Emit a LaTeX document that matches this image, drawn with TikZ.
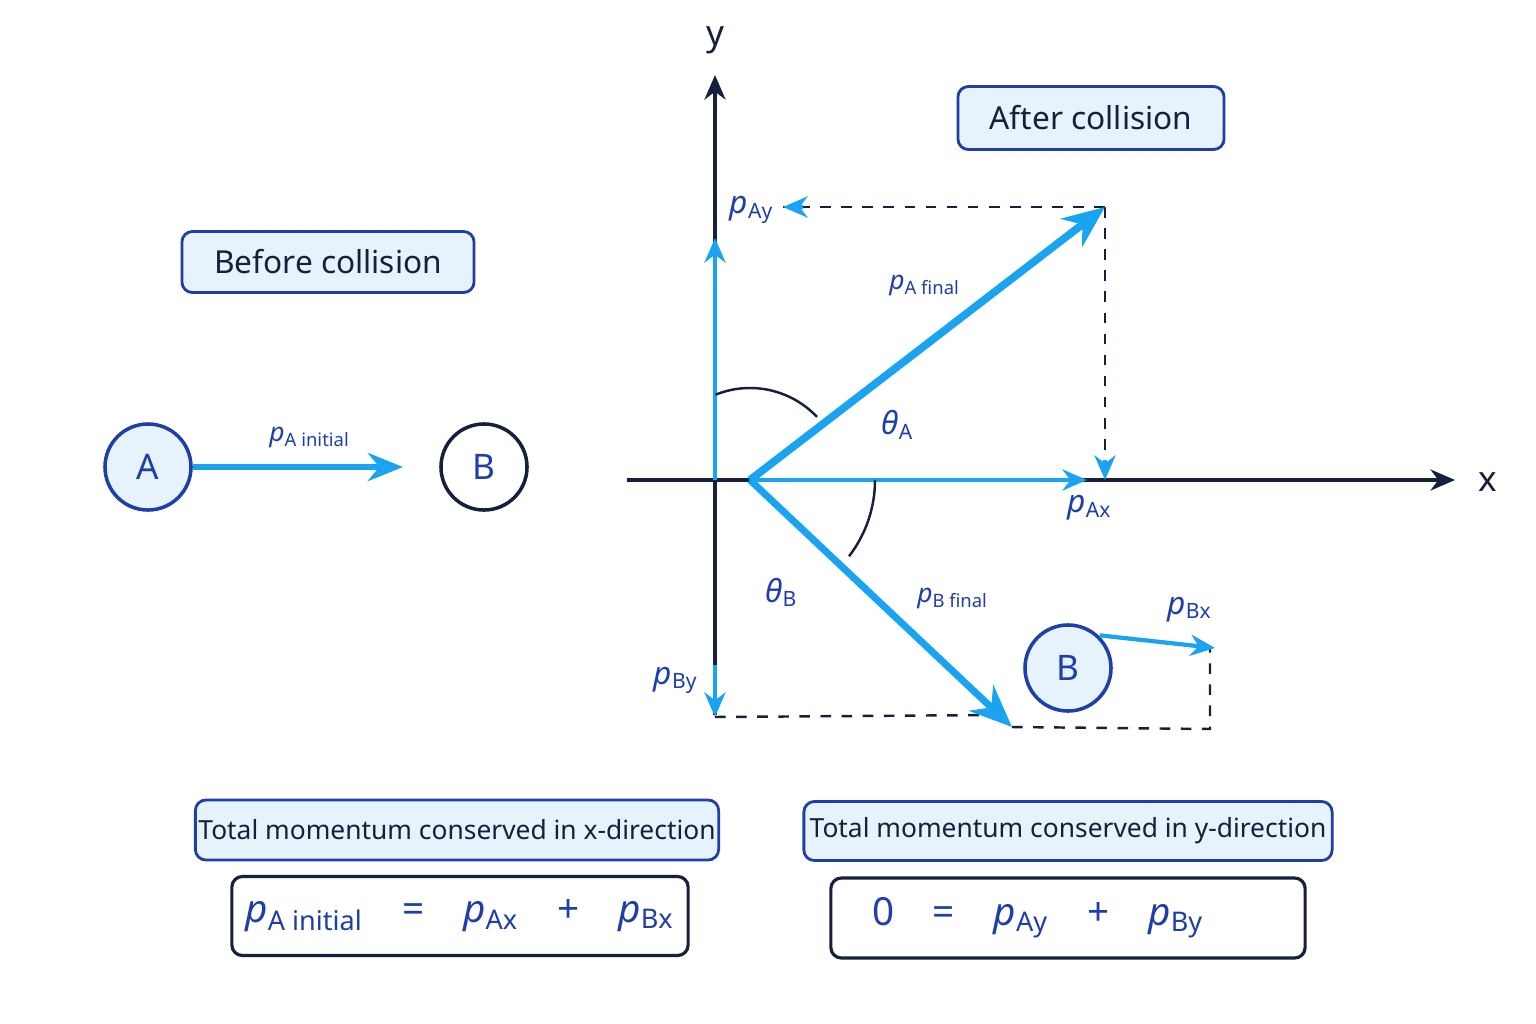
\documentclass[tikz,border=0pt]{standalone}
\usepackage{fontspec}
\setmainfont{Noto Sans}
\usetikzlibrary{arrows.meta}
\definecolor{lblue}{HTML}{1AA3F0}
\definecolor{navy}{HTML}{16203C}
\definecolor{tblue}{HTML}{1F3FA8}
\definecolor{bfill}{HTML}{E6F3FD}
\newcommand{\mom}[1]{\textit{p}\textsubscript{#1}}
\begin{document}
\begin{tikzpicture}[x=0.01cm,y=-0.01cm,>={Stealth[length=7pt,width=6pt]},
		font=\fontsize{7.5pt}{9pt}\selectfont,
		ball/.style={circle,draw=tblue,line width=1pt,minimum size=0.86cm,inner sep=0pt,font=\fontsize{10pt}{12pt}\selectfont,text=tblue},
		title/.style={draw=tblue,fill=bfill,rounded corners=3pt,line width=0.8pt,text=navy,inner sep=0pt},
		eqbox/.style={draw=navy,rounded corners=3pt,line width=0.9pt,text=tblue,inner sep=0pt,font=\fontsize{11pt}{13pt}\selectfont},
		lab/.style={text=tblue},
		vec/.style={->,lblue,line width=1.2pt},
		bigvec/.style={-{Stealth[length=12pt,width=10pt]},lblue,line width=2.2pt},
		guide/.style={dashed,navy,line width=0.7pt}]
		\useasboundingbox (0,0) rectangle (1536,1024);
		
		% before collision
		\node[title,minimum width=2.92cm,minimum height=0.61cm,font=\fontsize{9pt}{11pt}\selectfont] (before) at (328,262) {Before collision};
		\node[ball,fill=bfill] (A) at (148,467) {A};
		\node[ball,draw=navy,text=tblue] (B0) at (484,467) {B};
		\coordinate (Atip) at (403,467);
		\draw[vec,line width=1.6pt,-{Stealth[length=10pt,width=8pt]}] (A) -- (Atip);
		\node[lab] (pAi) at (310,437) {\mom{A initial}};
		
		% axes
		\coordinate (xl) at (627,480);
		\coordinate (xr) at (1455,480);
		\coordinate (yb) at (715,715);
		\coordinate (yt) at (715,75);
		\coordinate (O) at (715,480);
		\coordinate (C) at (750,480);
		\draw[->,navy,line width=1pt] (xl) -- (xr);
		\draw[->,navy,line width=1pt] (yb) -- (yt);
		\node[text=navy,font=\fontsize{10pt}{12pt}\selectfont] (xlab) at (1488,482) {x};
		\node[text=navy,font=\fontsize{10pt}{12pt}\selectfont] (ylab) at (715,40) {y};
		\node[title,minimum width=2.66cm,minimum height=0.63cm,font=\fontsize{9pt}{11pt}\selectfont] (after) at (1091,118) {After collision};
		
		% components
		\coordinate (Af) at (1105,207);
		\coordinate (Ay) at (783,207);
		\coordinate (Ax) at (1105,480);
		\coordinate (Axs) at (1087,480);
		\coordinate (Yup) at (715,238);
		\coordinate (Ydn0) at (715,665);
		\coordinate (Ydn) at (715,717);
		\coordinate (Bf) at (1012,727);
		\coordinate (Bm) at (995,715);
		\coordinate (Bc) at (1210,729);
		\coordinate (Bx) at (1215,648);
		\draw[guide] (Af) -- (Ay);
		\draw[guide] (Af) -- (Ax);
		\draw[vec] (Ay) ++(20,0) -- (Ay);
		\draw[vec] (Ax) ++(0,-20) -- (Ax);
		\draw[vec] (C) -- (Axs);
		\draw[vec] (O) -- (Yup);
		\draw[vec] (Ydn0) -- (Ydn);
		\draw[guide] (Ydn) -- (Bm);
		\draw[guide] (Bf) -- (Bc) -- (1210,648);
		
		% final momenta
		\draw[bigvec] (C) -- (Af);
		\draw[bigvec,line width=2pt] (C) -- (Bf);
		\node[ball,fill=bfill] (B) at (1068,668) {B};
		\draw[vec] (B.north east) ++(0,-1) -- (Bx);
		\draw[navy,line width=0.7pt] (C) ++(125,0) arc[start angle=0,end angle=37.6,radius=125];
		\draw[navy,line width=0.7pt] (C) ++(-112:92) arc[start angle=-112,end angle=-43.3,radius=92];
		
		% labels
		\node[lab] (pAf) at (925,285) {\mom{A final}};
		\node[lab] (pBf) at (953,598) {\mom{B final}};
		\node[lab,font=\fontsize{9pt}{11pt}\selectfont] (thA) at (898,425) {\textit{θ}\textsubscript{A}};
		\node[lab,font=\fontsize{9pt}{11pt}\selectfont] (thB) at (782,592) {\textit{θ}\textsubscript{B}};
		\node[lab,font=\fontsize{9pt}{11pt}\selectfont] (pAx) at (1090,508) {\mom{Ax}};
		\node[lab,font=\fontsize{9pt}{11pt}\selectfont] (pAy) at (752,210) {\mom{Ay}};
		\node[lab,font=\fontsize{9pt}{11pt}\selectfont] (pBy) at (676,680) {\mom{By}};
		\node[lab,font=\fontsize{9pt}{11pt}\selectfont] (pBx) at (1190,610) {\mom{Bx}};
		
		% conservation
		\node[title,minimum width=5.23cm,minimum height=0.6cm] (tx) at (457,830) {Total momentum conserved in x-direction};
		\node[title,minimum width=5.28cm,minimum height=0.59cm] (ty) at (1068,831) {Total momentum conserved in y-direction};
		\node[eqbox,minimum width=4.56cm,minimum height=0.79cm] (ex) at (460,916) {\mom{A initial}\quad=\quad\mom{Ax}\quad+\quad\mom{Bx}};
		\node[eqbox,minimum width=4.74cm,minimum height=0.8cm] (ey) at (1068,918) {\hspace*{-0.6cm}0\quad=\quad\mom{Ay}\quad+\quad\mom{By}};
\end{tikzpicture}
\end{document}
